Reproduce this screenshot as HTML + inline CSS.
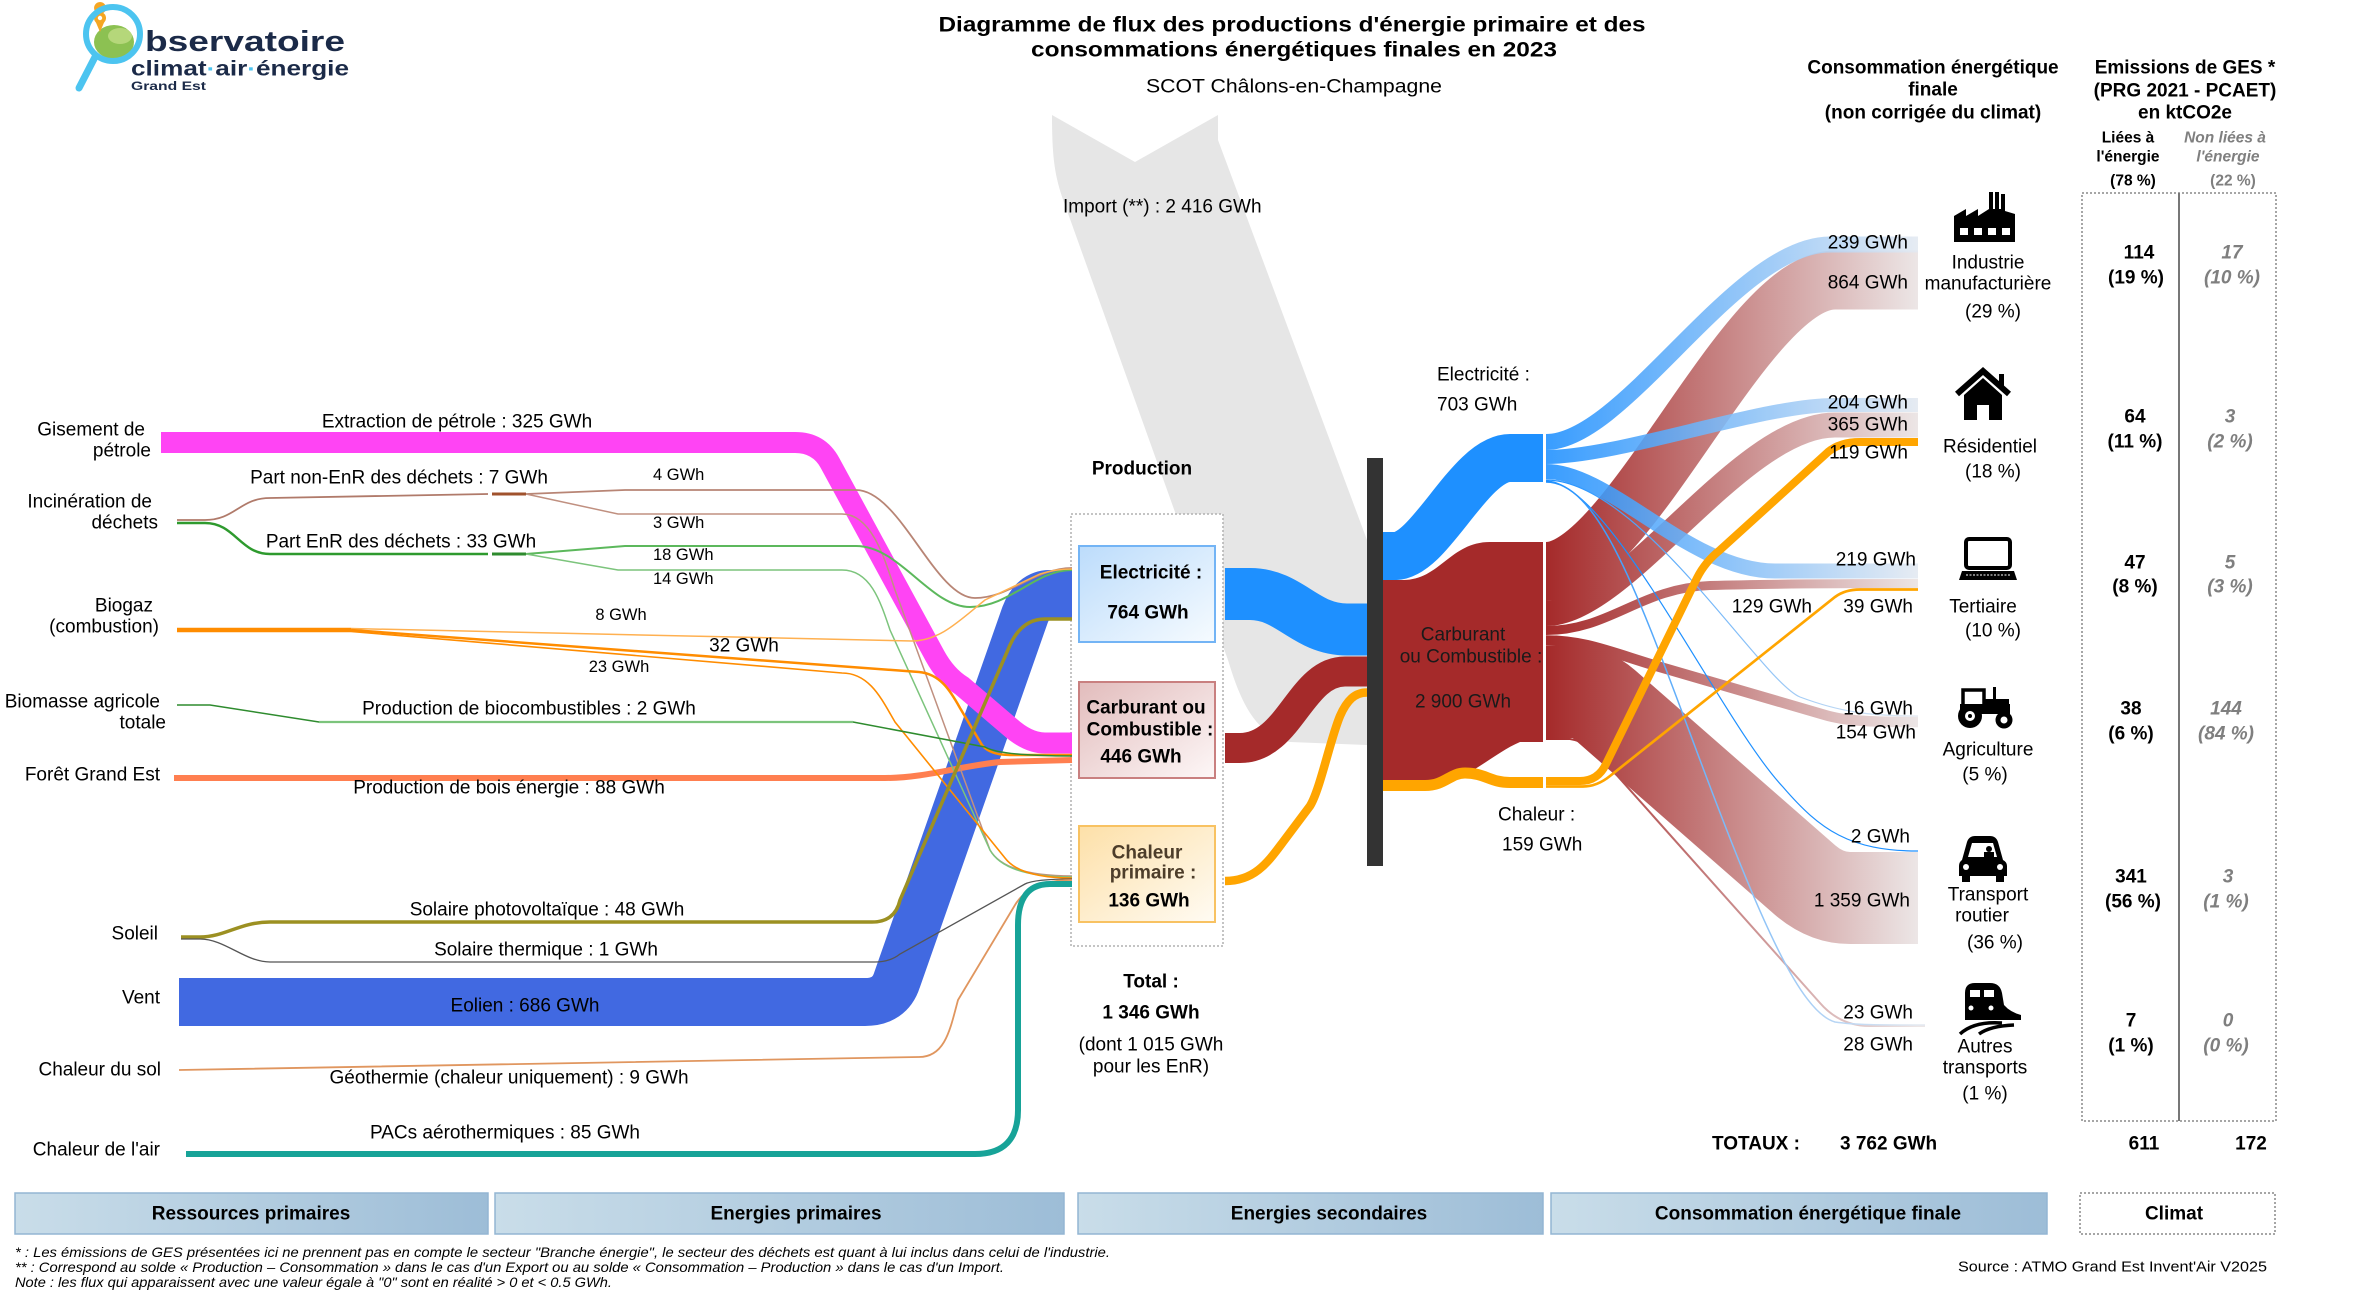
<!DOCTYPE html>
<html>
<head>
<meta charset="utf-8">
<style>
html,body{margin:0;padding:0;background:#fff;}
svg{display:block;}
text{font-family:"Liberation Sans",Arial,sans-serif;font-size:19px;fill:#000;dominant-baseline:central;}
.b{font-weight:bold;}
.m{text-anchor:middle;}
.e{text-anchor:end;}
.s{font-size:16.5px;}
.g{fill:#7f7f7f;font-style:italic;font-weight:bold;}
.fn{font-size:14px;font-style:italic;}
</style>
</head>
<body>
<svg width="2370" height="1299" viewBox="0 0 2370 1299" xmlns="http://www.w3.org/2000/svg">
<defs>
<linearGradient id="gr" gradientUnits="userSpaceOnUse" x1="1546" y1="0" x2="1918" y2="0"><stop offset="0" stop-color="#a52a2a"/><stop offset="1" stop-color="#ece6e6"/></linearGradient>
<linearGradient id="gb" gradientUnits="userSpaceOnUse" x1="1546" y1="0" x2="1918" y2="0"><stop offset="0" stop-color="#1e90ff"/><stop offset="1" stop-color="#e3e9f1"/></linearGradient>
<linearGradient id="gbar" x1="0" y1="0" x2="1" y2="0"><stop offset="0" stop-color="#c9dde9"/><stop offset="1" stop-color="#9dbdd7"/></linearGradient>
<linearGradient id="gel" x1="0" y1="0" x2="1" y2="1"><stop offset="0" stop-color="#bcdcfb"/><stop offset="1" stop-color="#f6fbff"/></linearGradient>
<linearGradient id="gca" x1="0" y1="0" x2="1" y2="1"><stop offset="0" stop-color="#e2bcbc"/><stop offset="1" stop-color="#fdf7f7"/></linearGradient>
<linearGradient id="gch" x1="0" y1="0" x2="1" y2="1"><stop offset="0" stop-color="#fde0a8"/><stop offset="1" stop-color="#fffbf3"/></linearGradient>
</defs>

<!-- LOGO -->
<path d="M95,57 L79,88" stroke="#4cc4f0" stroke-width="7" stroke-linecap="round"/>
<ellipse cx="114" cy="42" rx="20" ry="17" fill="#8cc152"/>
<ellipse cx="120" cy="36" rx="12" ry="8" fill="#b5d77a"/>
<path d="M100,14 a6,6 0 1 1 0.1,0 M94,18 L100,32 L106,18 Z" fill="#f5a623"/>
<circle cx="100" cy="18" r="6" fill="#f5a623"/>
<circle cx="100" cy="18" r="2.2" fill="#fff"/>
<circle cx="113" cy="34" r="27" fill="none" stroke="#4cc4f0" stroke-width="6"/>
<text x="145" y="42" class="b" style="font-size:29px;fill:#1b2a48" textLength="200" lengthAdjust="spacingAndGlyphs">bservatoire</text>
<text x="131" y="69" class="b" style="font-size:21px;fill:#1b2a48" textLength="218" lengthAdjust="spacingAndGlyphs">climat<tspan style="fill:#4cc4f0">·</tspan>air<tspan style="fill:#4cc4f0">·</tspan>énergie</text>
<text x="131" y="86" style="font-size:12px;fill:#1b2a48;font-weight:bold" textLength="75" lengthAdjust="spacingAndGlyphs">Grand Est</text>

<!-- TITLE -->
<text x="1292" y="25" class="b m" style="font-size:21px" textLength="707" lengthAdjust="spacingAndGlyphs">Diagramme de flux des productions d'énergie primaire et des</text>
<text x="1294" y="50" class="b m" style="font-size:21px" textLength="526" lengthAdjust="spacingAndGlyphs">consommations énergétiques finales en 2023</text>
<text x="1294" y="87" class="m" textLength="296" lengthAdjust="spacingAndGlyphs">SCOT Châlons-en-Champagne</text>

<!-- IMPORT GREY -->
<path d="M1052,115 L1135,162 L1218,115 L1218,140 L1367,540 L1367,745 L1290,742 C1255,735 1240,700 1228,660 L1065,205 C1055,178 1052,160 1052,115 Z" fill="#e6e6e6"/>
<text x="1063" y="207">Import (**) : 2 416 GWh</text>

<!-- PRODUCTION BOX -->
<text x="1142" y="469" class="b m">Production</text>
<rect x="1071" y="514" width="152" height="432" fill="#fff" stroke="#b0b0b0" stroke-width="1.5" stroke-dasharray="2,2"/>
<rect x="1079" y="546" width="136" height="96" fill="url(#gel)" stroke="#73b4f5" stroke-width="2"/>
<text x="1151" y="573" class="b m">Electricité :</text>
<text x="1148" y="613" class="b m">764 GWh</text>
<rect x="1079" y="682" width="136" height="96" fill="url(#gca)" stroke="#c98080" stroke-width="2"/>
<text x="1146" y="708" class="b m">Carburant ou</text>
<text x="1150" y="730" class="b m">Combustible :</text>
<text x="1141" y="757" class="b m">446 GWh</text>
<rect x="1079" y="826" width="136" height="96" fill="url(#gch)" stroke="#f8c262" stroke-width="2"/>
<text x="1147" y="853" class="b m" style="fill:#4d3d2a">Chaleur</text>
<text x="1153" y="873" class="b m" style="fill:#4d3d2a">primaire :</text>
<text x="1149" y="901" class="b m">136 GWh</text>
<text x="1151" y="982" class="b m">Total :</text>
<text x="1151" y="1013" class="b m">1 346 GWh</text>
<text x="1151" y="1045" class="m">(dont 1 015 GWh</text>
<text x="1151" y="1067" class="m">pour les EnR)</text>

<!-- LEFT FLOWS -->
<g fill="none">
<path d="M179,1002 H865 Q890,1002 897,980 L1025,615 Q1033,594 1050,594 H1072" stroke="#4169e1" stroke-width="48"/>
<path d="M161,442.5 H795 Q819,442.5 830,463 L935,656 Q946,676 962,686 L1010,727 Q1028,743 1045,743 H1072" stroke="#ff44f4" stroke-width="21"/>
<path d="M174,778 H885 C925,778 960,766 1000,762 L1072,760" stroke="#ff7f50" stroke-width="6"/>
<path d="M177,520 H205 C235,520 240,498 270,498 L488,494" stroke="#b07a6a" stroke-width="1.8"/>
<path d="M492,494 H526" stroke="#a0522d" stroke-width="3"/>
<path d="M526,494 L625,490 H856 C900,490 935,598 975,598 C1010,598 1035,568 1072,568" stroke="#b88575" stroke-width="1.8"/>
<path d="M526,494 L618,514 H842 C872,514 885,560 895,590 L990,850 Q1005,876 1072,876" stroke="#c09080" stroke-width="1.5"/>
<path d="M177,523 H205 C235,523 240,554 270,554 H488" stroke="#2e9a2e" stroke-width="2.5"/>
<path d="M492,554 H526" stroke="#2e8b2e" stroke-width="3"/>
<path d="M526,554 L625,546 H856 C900,546 930,607 970,607 C1010,607 1035,570 1072,570" stroke="#5cb85c" stroke-width="2"/>
<path d="M526,554 L618,570 H842 C870,570 880,600 890,630 L990,850 Q1005,877 1072,877" stroke="#7cc47c" stroke-width="1.5"/>
<path d="M177,630 H351" stroke="#ff8c00" stroke-width="4.5"/>
<path d="M351,628.5 L912,641 C940,641 960,620 985,600 L1040,574 Q1055,569 1072,569" stroke="#ffb050" stroke-width="1.5"/>
<path d="M351,630 L919,672 C940,674 950,690 960,708 L982,745 Q990,755 1010,755 H1072" stroke="#ff8c00" stroke-width="2.5"/>
<path d="M351,631.5 L842,673 C870,673 882,700 895,722 L1005,858 Q1020,878 1072,878" stroke="#ff8c00" stroke-width="1.6"/>
<path d="M177,705 H210 L319,722 H853 L985,747 Q1000,756 1072,756" stroke="#2e8b2e" stroke-width="1.5"/>
<path d="M319,722 H853" stroke="#7cc47c" stroke-width="2.2"/>
<path d="M181,937 H200 C225,937 240,922 270,922 H872 Q895,922 900,900 L1010,645 Q1022,619 1045,619 H1072" stroke="#9c9022" stroke-width="3.5"/>
<path d="M181,939 H200 C225,939 245,962 270,962 H875 Q890,962 900,954 L1025,884 Q1035,879 1072,879" stroke="#555" stroke-width="1.3"/>
<path d="M179,1070 L919,1057 C945,1057 950,1030 958,1000 L1015,905 Q1030,880 1072,880" stroke="#e0965f" stroke-width="1.8"/>
<path d="M186,1154 H975 Q1018,1154 1018,1110 V925 Q1018,884 1050,884 H1072" stroke="#17a398" stroke-width="6"/>
</g>

<!-- LEFT LABELS -->
<text x="145" y="430" class="e">Gisement de</text>
<text x="151" y="451" class="e">pétrole</text>
<text x="152" y="502" class="e">Incinération de</text>
<text x="158" y="523" class="e">déchets</text>
<text x="153" y="606" class="e">Biogaz</text>
<text x="159" y="627" class="e">(combustion)</text>
<text x="160" y="702" class="e">Biomasse agricole</text>
<text x="166" y="723" class="e">totale</text>
<text x="160" y="775" class="e">Forêt Grand Est</text>
<text x="158" y="934" class="e">Soleil</text>
<text x="160" y="998" class="e">Vent</text>
<text x="161" y="1070" class="e">Chaleur du sol</text>
<text x="160" y="1150" class="e">Chaleur de l'air</text>

<text x="457" y="422" class="m">Extraction de pétrole :  325 GWh</text>
<text x="399" y="478" class="m">Part non-EnR des déchets :  7 GWh</text>
<text x="401" y="542" class="m">Part EnR des déchets :  33 GWh</text>
<text x="653" y="475" class="s">4 GWh</text>
<text x="653" y="523" class="s">3 GWh</text>
<text x="653" y="555" class="s">18 GWh</text>
<text x="653" y="579" class="s">14 GWh</text>
<text x="621" y="615" class="m s">8 GWh</text>
<text x="744" y="646" class="m">32 GWh</text>
<text x="619" y="667" class="m s">23 GWh</text>
<text x="529" y="709" class="m">Production de biocombustibles :  2 GWh</text>
<text x="509" y="788" class="m">Production de bois énergie :  88 GWh</text>
<text x="547" y="910" class="m">Solaire photovoltaïque :  48 GWh</text>
<text x="546" y="950" class="m">Solaire thermique :  1 GWh</text>
<text x="525" y="1006" class="m">Eolien :  686 GWh</text>
<text x="509" y="1078" class="m">Géothermie (chaleur uniquement) :  9 GWh</text>
<text x="505" y="1133" class="m">PACs aérothermiques :  85 GWh</text>

<!-- PRODUCTION -> BAR -->
<g fill="none">
<path d="M1225,594 H1250 C1290,594 1305,629.5 1347,629.5 H1367" stroke="#1e90ff" stroke-width="52"/>
<path d="M1225,748 H1240 C1290,748 1300,671.5 1345,671.5 H1367" stroke="#a52a2a" stroke-width="30"/>
<path d="M1225,881 C1255,881 1268,862 1283,842 L1310,806 C1320,790 1330,740 1340,716 C1347,700 1355,692.5 1367,692.5" stroke="#ffa500" stroke-width="8.5"/>
</g>
<rect x="1367" y="458" width="16" height="408" fill="#333"/>

<!-- BAR -> SPLIT -->
<path d="M1383,556 H1395 C1430,556 1470,458 1510,458 H1543" fill="none" stroke="#1e90ff" stroke-width="48"/>
<path d="M1383,580 H1403 C1440,580 1450,542 1490,542 H1543 V742 H1520 C1490,755 1470,780 1440,780 H1383 Z" fill="#a52a2a"/>
<path d="M1383,785.5 H1425 C1445,785.5 1450,773 1465,773 C1485,773 1490,782.5 1510,782.5 H1543" fill="none" stroke="#ffa500" stroke-width="11"/>
<text x="1463" y="635" class="m" style="fill:#1a1a1a">Carburant</text>
<text x="1471" y="657" class="m" style="fill:#1a1a1a">ou Combustible :</text>
<text x="1463" y="702" class="m" style="fill:#1a1a1a">2 900 GWh</text>
<text x="1437" y="375">Electricité :</text>
<text x="1437" y="405">703 GWh</text>
<text x="1498" y="815">Chaleur :</text>
<text x="1502" y="845">159 GWh</text>

<!-- FAN -->
<g fill="none">
<path d="M1546,571.5 C1630,571.5 1745,280 1835,280 H1918" stroke="url(#gr)" stroke-width="59"/>
<path d="M1546,613.5 C1625,613.5 1740,425 1835,425 H1918" stroke="url(#gr)" stroke-width="25"/>
<path d="M1546,630.5 C1610,630.5 1640,588 1710,585.5 C1780,583.5 1850,583.5 1918,583.5" stroke="url(#gr)" stroke-width="9"/>
<path d="M1546,640.5 C1585,640.5 1610,652 1660,667 L1825,715 C1845,721 1870,722 1918,722" stroke="url(#gr)" stroke-width="10.5"/>
<path d="M1546,692 H1575 Q1590,692 1605,705 L1805,880 Q1826,898 1850,898 H1918" stroke="url(#gr)" stroke-width="92"/>
<path d="M1546,739 H1570 Q1590,742 1605,762 L1820,1003 Q1840,1026 1870,1026 H1925" stroke="url(#gr)" stroke-width="2"/>
<g opacity="0.88">
<path d="M1546,442 C1625,442 1735,244.5 1830,244.5 H1918" stroke="url(#gb)" stroke-width="16"/>
<path d="M1546,457 C1620,457 1760,405 1835,405 H1918" stroke="url(#gb)" stroke-width="14"/>
<path d="M1546,471.5 C1610,471.5 1690,571 1775,571 H1918" stroke="url(#gb)" stroke-width="15"/>
</g>
<path d="M1546,480 C1640,480 1760,680 1800,697 C1840,712 1870,716 1918,716" stroke="url(#gb)" stroke-width="1.2"/>
<path d="M1546,481 C1610,481 1720,720 1783,787 C1820,830 1850,851 1918,851" stroke="#1e90ff" stroke-width="1.2"/>
<path d="M1546,482 C1600,482 1640,600 1700,760 C1760,920 1800,1012 1835,1022 C1855,1025 1880,1025 1925,1025" stroke="url(#gb)" stroke-width="1.5"/>
<path d="M1546,781 H1580 Q1598,781 1606,764 L1697,578 Q1705,562 1720,550 L1828,452 Q1840,442 1860,442 H1918" stroke="#ffa500" stroke-width="8"/>
<path d="M1546,786.5 H1583 Q1597,786.5 1610,776 L1835,597 Q1845,589.5 1860,589.5 H1918" stroke="#ffa500" stroke-width="2.7"/>
</g>
<rect x="1543" y="425" width="3" height="372" fill="#fff"/>

<!-- FAN LABELS -->
<text x="1908" y="243" class="e">239 GWh</text>
<text x="1908" y="283" class="e">864 GWh</text>
<text x="1908" y="403" class="e">204 GWh</text>
<text x="1908" y="425" class="e">365 GWh</text>
<text x="1908" y="453" class="e">119 GWh</text>
<text x="1916" y="560" class="e">219 GWh</text>
<text x="1812" y="607" class="e">129 GWh</text>
<text x="1913" y="607" class="e">39 GWh</text>
<text x="1913" y="709" class="e">16 GWh</text>
<text x="1916" y="733" class="e">154 GWh</text>
<text x="1910" y="837" class="e">2 GWh</text>
<text x="1910" y="901" class="e">1 359 GWh</text>
<text x="1913" y="1013" class="e">23 GWh</text>
<text x="1913" y="1045" class="e">28 GWh</text>

<!-- ICONS -->
<path d="M1954,242 V216 L1966,209 V216 L1978,209 V216 L1989,209 V192 H1993 V209 H1995 V192 H1999 V209 H2001 V194 H2005 V211 L2015,214 V242 Z" fill="#000"/>
<g fill="#fff"><rect x="1960" y="228" width="8" height="7"/><rect x="1974" y="228" width="8" height="7"/><rect x="1988" y="228" width="8" height="7"/><rect x="2002" y="228" width="8" height="7"/></g>
<path d="M1957,394 L1983,371 L2009,394" fill="none" stroke="#000" stroke-width="6"/>
<rect x="1999" y="374" width="5" height="13" fill="#000"/>
<path d="M1964,395 L1983,378 L2002,395 V420 H1989 V405 H1977 V420 H1964 Z" fill="#000"/>
<rect x="1966" y="539" width="44" height="29" rx="3" fill="#fff" stroke="#000" stroke-width="4"/>
<path d="M1962,571 H2014 L2017,580 H1959 Z" fill="#000"/>
<path d="M1966,575 H2010" stroke="#fff" stroke-width="1" stroke-dasharray="2,1.5"/>
<rect x="1963" y="690" width="21" height="16" fill="none" stroke="#000" stroke-width="3.5"/>
<rect x="1960" y="704" width="50" height="10" fill="#000"/>
<rect x="1984" y="699" width="25" height="8" fill="#000"/>
<rect x="1993" y="687" width="3" height="13" fill="#000"/>
<circle cx="1970" cy="716" r="12" fill="#000"/><circle cx="1970" cy="716" r="5" fill="#fff"/><circle cx="1970" cy="716" r="2" fill="#000"/>
<circle cx="2004" cy="720" r="8.5" fill="#000"/><circle cx="2004" cy="720" r="3.5" fill="#fff"/>
<path d="M1962,860 L1967,842 Q1969,836 1975,836 H1990 Q1996,836 1998,842 L2003,860 Q2007,862 2007,866 V876 H1959 V866 Q1959,862 1962,860 Z" fill="#000"/>
<path d="M1968,857 L1972,843 H1993 L1997,857 Z" fill="#fff"/>
<circle cx="1989" cy="849" r="3" fill="#000"/><rect x="1984" y="852" width="10" height="5" fill="#000"/>
<circle cx="1966" cy="867" r="3" fill="#fff"/><circle cx="2000" cy="867" r="3" fill="#fff"/>
<rect x="1962" y="874" width="8" height="8" fill="#000"/><rect x="1996" y="874" width="8" height="8" fill="#000"/>
<path d="M1965,1020 V993 Q1965,983 1975,983 H1990 Q2000,983 2002,993 L2004,1005 Q2010,1012 2021,1015 V1020 Z" fill="#000"/>
<rect x="1970" y="990" width="10" height="7" fill="#fff"/><rect x="1984" y="990" width="10" height="7" fill="#fff"/>
<circle cx="1971" cy="1008" r="2.5" fill="#fff"/><circle cx="1991" cy="1008" r="2.5" fill="#fff"/>
<path d="M1960,1034 Q1974,1021 2002,1023 M1979,1034 Q1990,1026 2014,1025" fill="none" stroke="#000" stroke-width="3.5"/>

<!-- CONSUMER LABELS -->
<text x="1933" y="68" class="b m">Consommation énergétique</text>
<text x="1933" y="90" class="b m">finale</text>
<text x="1933" y="113" class="b m">(non corrigée du climat)</text>
<text x="1988" y="263" class="m">Industrie</text>
<text x="1988" y="284" class="m">manufacturière</text>
<text x="1993" y="312" class="m">(29 %)</text>
<text x="1990" y="447" class="m">Résidentiel</text>
<text x="1993" y="472" class="m">(18 %)</text>
<text x="1983" y="607" class="m">Tertiaire</text>
<text x="1993" y="631" class="m">(10 %)</text>
<text x="1988" y="750" class="m">Agriculture</text>
<text x="1985" y="775" class="m">(5 %)</text>
<text x="1988" y="895" class="m">Transport</text>
<text x="1982" y="916" class="m">routier</text>
<text x="1995" y="943" class="m">(36 %)</text>
<text x="1985" y="1047" class="m">Autres</text>
<text x="1985" y="1068" class="m">transports</text>
<text x="1985" y="1094" class="m">(1 %)</text>

<!-- GES TABLE -->
<text x="2185" y="68" class="b m">Emissions de GES *</text>
<text x="2185" y="91" class="b m">(PRG 2021 - PCAET)</text>
<text x="2185" y="113" class="b m">en ktCO2e</text>
<text x="2128" y="138" class="b m" style="font-size:15.5px">Liées à</text>
<text x="2128" y="157" class="b m" style="font-size:15.5px">l'énergie</text>
<text x="2133" y="181" class="b m" style="font-size:15.5px">(78 %)</text>
<text x="2225" y="138" class="m g" style="font-size:15.5px">Non liées à</text>
<text x="2228" y="157" class="m g" style="font-size:15.5px">l'énergie</text>
<text x="2233" y="181" class="m" style="font-size:15.5px;fill:#7f7f7f;font-weight:bold">(22 %)</text>
<rect x="2082" y="193" width="194" height="928" fill="none" stroke="#888" stroke-width="1.5" stroke-dasharray="2,2"/>
<line x1="2179" y1="193" x2="2179" y2="1121" stroke="#777" stroke-width="2"/>
<g class="b">
<text x="2139" y="253" class="b m">114</text><text x="2136" y="278" class="b m">(19 %)</text>
<text x="2135" y="417" class="b m">64</text><text x="2135" y="442" class="b m">(11 %)</text>
<text x="2135" y="563" class="b m">47</text><text x="2135" y="587" class="b m">(8 %)</text>
<text x="2131" y="709" class="b m">38</text><text x="2131" y="734" class="b m">(6 %)</text>
<text x="2131" y="877" class="b m">341</text><text x="2133" y="902" class="b m">(56 %)</text>
<text x="2131" y="1021" class="b m">7</text><text x="2131" y="1046" class="b m">(1 %)</text>
</g>
<text x="2232" y="253" class="m g">17</text><text x="2232" y="278" class="m g">(10 %)</text>
<text x="2230" y="417" class="m g">3</text><text x="2230" y="442" class="m g">(2 %)</text>
<text x="2230" y="563" class="m g">5</text><text x="2230" y="587" class="m g">(3 %)</text>
<text x="2226" y="709" class="m g">144</text><text x="2226" y="734" class="m g">(84 %)</text>
<text x="2228" y="877" class="m g">3</text><text x="2226" y="902" class="m g">(1 %)</text>
<text x="2228" y="1021" class="m g">0</text><text x="2226" y="1046" class="m g">(0 %)</text>

<!-- TOTALS -->
<text x="1712" y="1144" class="b">TOTAUX :</text>
<text x="1840" y="1144" class="b">3 762 GWh</text>
<text x="2144" y="1144" class="b m">611</text>
<text x="2251" y="1144" class="b m">172</text>

<!-- BOTTOM BARS -->
<rect x="15" y="1193" width="473" height="41" fill="url(#gbar)" stroke="#93b5d3" stroke-width="1.5"/>
<text x="251" y="1214" class="b m">Ressources primaires</text>
<rect x="495" y="1193" width="569" height="41" fill="url(#gbar)" stroke="#93b5d3" stroke-width="1.5"/>
<text x="796" y="1214" class="b m">Energies primaires</text>
<rect x="1078" y="1193" width="465" height="41" fill="url(#gbar)" stroke="#93b5d3" stroke-width="1.5"/>
<text x="1329" y="1214" class="b m">Energies secondaires</text>
<rect x="1551" y="1193" width="496" height="41" fill="url(#gbar)" stroke="#93b5d3" stroke-width="1.5"/>
<text x="1808" y="1214" class="b m">Consommation énergétique finale</text>
<rect x="2080" y="1193" width="195" height="41" fill="#fff" stroke="#888" stroke-width="1.5" stroke-dasharray="2,2"/>
<text x="2174" y="1214" class="b m">Climat</text>

<!-- FOOTNOTES -->
<text x="15" y="1252" class="fn" textLength="1095" lengthAdjust="spacingAndGlyphs">* : Les émissions de GES présentées ici ne prennent pas en compte le secteur "Branche énergie", le secteur des déchets est quant à lui inclus dans celui de l'industrie.</text>
<text x="15" y="1267" class="fn" textLength="989" lengthAdjust="spacingAndGlyphs">** : Correspond au solde « Production – Consommation » dans le cas d'un Export ou au solde « Consommation – Production » dans le cas d'un Import.</text>
<text x="15" y="1282" class="fn" textLength="597" lengthAdjust="spacingAndGlyphs">Note : les flux qui apparaissent avec une valeur égale à "0" sont en réalité &gt; 0 et &lt; 0.5 GWh.</text>
<text x="2267" y="1267" class="e" style="font-size:15px" textLength="309" lengthAdjust="spacingAndGlyphs">Source : ATMO Grand Est Invent'Air V2025</text>
</svg>
</body>
</html>
